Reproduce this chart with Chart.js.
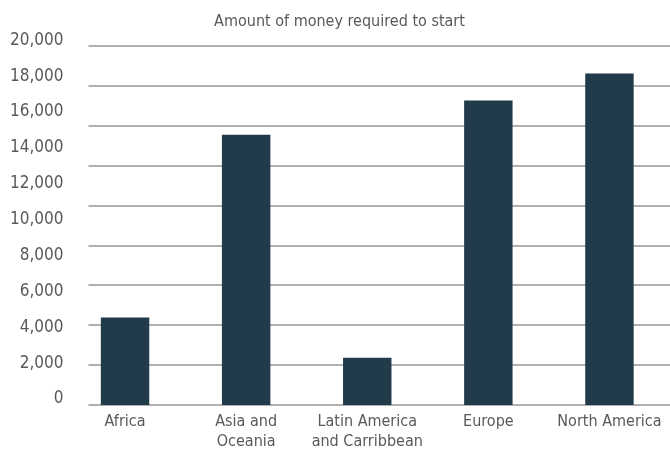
<!DOCTYPE html>
<html>
<head>
<meta charset="utf-8">
<script src="https://cdn.jsdelivr.net/npm/chart.js@4/dist/chart.umd.min.js"></script>
<style>
  html, body { margin: 0; padding: 0; background: #fff; }
  canvas { display: block; }
</style>
</head>
<body>
<canvas id="myChart" width="670" height="450"></canvas>
<script>
const regions = [
  'Africa',
  ['Asia and', 'Oceania'],
  ['Latin America', 'and Carribbean'],
  'Europe',
  'North America'
];
const amounts = [4880, 15070, 2640, 16980, 18480];
const yTicks = [0, 2000, 4000, 6000, 8000, 10000, 12000, 14000, 16000, 18000, 20000];
const titleText = 'Amount of money required to start';

const fontFamily = '"DejaVu Sans Condensed", "Liberation Sans", sans-serif';
const textColor = '#595959';

// grey rules across the plot, evenly spaced, starting a little right of the axis
const ruleLines = {
  id: 'ruleLines',
  beforeDatasetsDraw(chart) {
    const s = chart.scales.yGrid;
    const area = chart.chartArea;
    const ctx = chart.ctx;
    ctx.save();
    ctx.strokeStyle = '#b0b0b0';
    ctx.lineWidth = 2;
    s.ticks.forEach(t => {
      const y = Math.round(s.getPixelForValue(t.value));
      ctx.beginPath();
      ctx.moveTo(area.left + 24, y);
      ctx.lineTo(area.right, y);
      ctx.stroke();
    });
    ctx.restore();
  }
};

const ctx = document.getElementById('myChart').getContext('2d');

const myChart = new Chart(ctx, {
  type: 'bar',
  data: {
    labels: regions,
    datasets: [{
      data: amounts,
      backgroundColor: '#223b4b',
      barPercentage: 0.4,
      categoryPercentage: 1.0
    }]
  },
  options: {
    responsive: false,
    animation: false,
    layout: { padding: { left: 9, right: 0, top: 0, bottom: -9 } },
    plugins: {
      legend: { display: false },
      tooltip: { enabled: false },
      title: {
        display: true,
        text: titleText,
        color: textColor,
        font: { family: fontFamily, size: 16, weight: 'normal', lineHeight: 1.2 },
        padding: { top: 12, bottom: 15 }
      }
    },
    scales: {
      x: {
        grid: { display: false, drawTicks: false },
        border: { display: false },
        ticks: {
          color: textColor,
          font: { family: fontFamily, size: 16, lineHeight: 1.25 },
          padding: 7,
          maxRotation: 0,
          autoSkip: false
        }
      },
      y: {
        min: 0,
        max: 20000,
        afterBuildTicks: axis => { axis.ticks = yTicks.map(v => ({ value: v })); },
        grid: { display: false, drawTicks: false },
        border: { display: false },
        ticks: {
          color: textColor,
          font: { family: fontFamily, size: 17 },
          padding: 1,
          labelOffset: -6,
          callback: v => v.toLocaleString('en-US')
        }
      },
      yGrid: {
        position: 'right',
        display: false,
        min: 0,
        max: 9,
        ticks: { stepSize: 1 }
      }
    }
  },
  plugins: [ruleLines]
});
</script>
</body>
</html>
